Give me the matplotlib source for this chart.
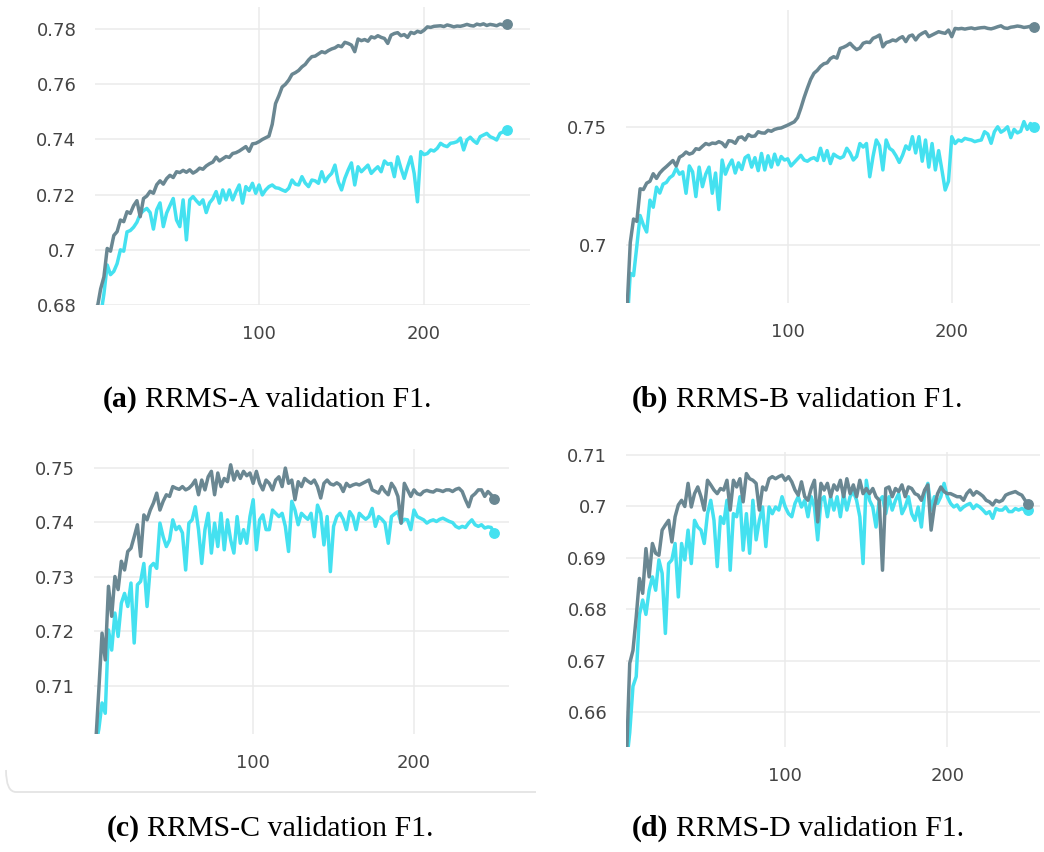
import numpy as np
import matplotlib
matplotlib.use("Agg")
import matplotlib.pyplot as plt
from matplotlib.path import Path
from matplotlib.patches import PathPatch

# Validation F1 logged every second epoch
epochs = np.arange(2, 251, 2)

rrms_a_gray = [
    0.6790, 0.6858, 0.6902, 0.7005, 0.6995, 0.7052, 0.7066, 0.7108, 0.7102, 0.7138,
    0.7132, 0.7160, 0.7178, 0.7120, 0.7186, 0.7195, 0.7212, 0.7205, 0.7236, 0.7250,
    0.7238, 0.7258, 0.7270, 0.7262, 0.7283, 0.7280, 0.7288, 0.7281, 0.7290, 0.7278,
    0.7285, 0.7296, 0.7292, 0.7304, 0.7312, 0.7318, 0.7336, 0.7322, 0.7330, 0.7338,
    0.7335, 0.7349, 0.7352, 0.7358, 0.7366, 0.7374, 0.7357, 0.7384, 0.7386, 0.7392,
    0.7400, 0.7406, 0.7412, 0.7455, 0.7530, 0.7558, 0.7590, 0.7600, 0.7615, 0.7636,
    0.7642, 0.7650, 0.7663, 0.7672, 0.7688, 0.7700, 0.7702, 0.7710, 0.7718, 0.7714,
    0.7722, 0.7728, 0.7732, 0.7740, 0.7736, 0.7752, 0.7748, 0.7742, 0.7718, 0.7764,
    0.7758, 0.7762, 0.7756, 0.7772, 0.7768, 0.7776, 0.7770, 0.7766, 0.7748, 0.7778,
    0.7784, 0.7787, 0.7776, 0.7780, 0.7770, 0.7788, 0.7784, 0.7792, 0.7788, 0.7796,
    0.7808, 0.7806, 0.7810, 0.7811, 0.7812, 0.7809, 0.7815, 0.7812, 0.7808, 0.7811,
    0.7810, 0.7813, 0.7817, 0.7813, 0.7811, 0.7818, 0.7815, 0.7819, 0.7813, 0.7817,
    0.7815, 0.7812, 0.7818, 0.7815, 0.7817,
]
rrms_a_cyan = [
    0.6680, 0.6760, 0.6840, 0.6945, 0.6910, 0.6922, 0.6950, 0.7000, 0.6995, 0.7065,
    0.7070, 0.7082, 0.7100, 0.7130, 0.7142, 0.7150, 0.7135, 0.7075, 0.7145, 0.7170,
    0.7084, 0.7133, 0.7160, 0.7186, 0.7108, 0.7084, 0.7181, 0.7036, 0.7181, 0.7193,
    0.7178, 0.7165, 0.7181, 0.7135, 0.7170, 0.7185, 0.7211, 0.7169, 0.7217, 0.7181,
    0.7217, 0.7181, 0.7210, 0.7235, 0.7169, 0.7229, 0.7215, 0.7241, 0.7205, 0.7235,
    0.7199, 0.7217, 0.7229, 0.7235, 0.7225, 0.7223, 0.7217, 0.7212, 0.7223, 0.7253,
    0.7238, 0.7235, 0.7265, 0.7242, 0.7229, 0.7253, 0.7250, 0.7241, 0.7283, 0.7247,
    0.7265, 0.7277, 0.7307, 0.7247, 0.7217, 0.7259, 0.7289, 0.7315, 0.7235, 0.7301,
    0.7283, 0.7295, 0.7307, 0.7277, 0.7290, 0.7301, 0.7283, 0.7322, 0.7310, 0.7313,
    0.7265, 0.7337, 0.7295, 0.7259, 0.7300, 0.7337, 0.7277, 0.7174, 0.7356, 0.7345,
    0.7349, 0.7362, 0.7358, 0.7368, 0.7386, 0.7378, 0.7374, 0.7386, 0.7388, 0.7392,
    0.7405, 0.7362, 0.7398, 0.7408, 0.7395, 0.7386, 0.7410, 0.7416, 0.7422, 0.7410,
    0.7405, 0.7398, 0.7422, 0.7428, 0.7434,
]

rrms_b_gray = [
    0.6720, 0.7010, 0.7110, 0.7100, 0.7238, 0.7235, 0.7262, 0.7270, 0.7302, 0.7282,
    0.7305, 0.7320, 0.7332, 0.7345, 0.7358, 0.7335, 0.7372, 0.7380, 0.7394, 0.7385,
    0.7390, 0.7408, 0.7405, 0.7418, 0.7430, 0.7425, 0.7432, 0.7430, 0.7438, 0.7432,
    0.7416, 0.7442, 0.7440, 0.7431, 0.7455, 0.7458, 0.7445, 0.7468, 0.7460, 0.7462,
    0.7480, 0.7475, 0.7474, 0.7486, 0.7482, 0.7490, 0.7494, 0.7496, 0.7502, 0.7508,
    0.7515, 0.7522, 0.7540, 0.7580, 0.7625, 0.7665, 0.7702, 0.7728, 0.7740, 0.7757,
    0.7768, 0.7772, 0.7790, 0.7798, 0.7792, 0.7833, 0.7838, 0.7845, 0.7855, 0.7840,
    0.7828, 0.7835, 0.7855, 0.7860, 0.7858, 0.7876, 0.7882, 0.7890, 0.7840, 0.7858,
    0.7862, 0.7869, 0.7865, 0.7876, 0.7883, 0.7862, 0.7885, 0.7890, 0.7869, 0.7888,
    0.7897, 0.7904, 0.7883, 0.7890, 0.7897, 0.7904, 0.7900, 0.7897, 0.7911, 0.7883,
    0.7918, 0.7916, 0.7918, 0.7915, 0.7918, 0.7920, 0.7916, 0.7919, 0.7921, 0.7922,
    0.7918, 0.7916, 0.7920, 0.7925, 0.7929, 0.7920, 0.7918, 0.7923, 0.7925, 0.7928,
    0.7926, 0.7922, 0.7924, 0.7927, 0.7925,
]
rrms_b_cyan = [
    0.6650, 0.6880, 0.6870, 0.6995, 0.7125, 0.7085, 0.7055, 0.7190, 0.7160, 0.7245,
    0.7220, 0.7258, 0.7265, 0.7285, 0.7295, 0.7325, 0.7300, 0.7310, 0.7219, 0.7335,
    0.7310, 0.7205, 0.7330, 0.7247, 0.7300, 0.7330, 0.7219, 0.7305, 0.7150, 0.7360,
    0.7300, 0.7335, 0.7360, 0.7305, 0.7348, 0.7320, 0.7370, 0.7380, 0.7330, 0.7370,
    0.7315, 0.7388, 0.7318, 0.7378, 0.7330, 0.7385, 0.7340, 0.7375, 0.7360, 0.7365,
    0.7335, 0.7350, 0.7365, 0.7380, 0.7360, 0.7355, 0.7365, 0.7370, 0.7358, 0.7410,
    0.7358, 0.7400, 0.7345, 0.7385, 0.7375, 0.7368, 0.7375, 0.7410, 0.7390, 0.7360,
    0.7375, 0.7430, 0.7415, 0.7430, 0.7289, 0.7375, 0.7445, 0.7420, 0.7318, 0.7445,
    0.7410, 0.7400, 0.7378, 0.7350, 0.7380, 0.7420, 0.7405, 0.7459, 0.7390, 0.7459,
    0.7355, 0.7445, 0.7330, 0.7430, 0.7318, 0.7400, 0.7318, 0.7233, 0.7270, 0.7459,
    0.7430, 0.7445, 0.7440, 0.7452, 0.7448, 0.7445, 0.7438, 0.7442, 0.7445, 0.7480,
    0.7470, 0.7431, 0.7480, 0.7501, 0.7478, 0.7487, 0.7501, 0.7455, 0.7490, 0.7475,
    0.7482, 0.7523, 0.7490, 0.7515, 0.7500,
]

rrms_c_gray = [
    0.6990, 0.7092, 0.7196, 0.7147, 0.7282, 0.7227, 0.7300, 0.7276, 0.7328, 0.7312,
    0.7346, 0.7352, 0.7373, 0.7395, 0.7337, 0.7413, 0.7404, 0.7422, 0.7435, 0.7453,
    0.7422, 0.7438, 0.7450, 0.7447, 0.7465, 0.7462, 0.7460, 0.7465, 0.7459, 0.7462,
    0.7468, 0.7477, 0.7450, 0.7477, 0.7459, 0.7483, 0.7493, 0.7450, 0.7490, 0.7465,
    0.7480, 0.7474, 0.7505, 0.7477, 0.7493, 0.7480, 0.7493, 0.7485, 0.7490, 0.7471,
    0.7493, 0.7471, 0.7459, 0.7477, 0.7471, 0.7459, 0.7477, 0.7483, 0.7465, 0.7499,
    0.7471, 0.7477, 0.7441, 0.7474, 0.7465, 0.7480, 0.7475, 0.7471, 0.7477, 0.7465,
    0.7444, 0.7471, 0.7477, 0.7470, 0.7468, 0.7472, 0.7468, 0.7456, 0.7471, 0.7465,
    0.7468, 0.7470, 0.7468, 0.7471, 0.7474, 0.7477, 0.7459, 0.7456, 0.7453, 0.7465,
    0.7456, 0.7450, 0.7471, 0.7462, 0.7447, 0.7398, 0.7471, 0.7459, 0.7447, 0.7459,
    0.7452, 0.7450, 0.7456, 0.7458, 0.7456, 0.7455, 0.7459, 0.7458, 0.7456, 0.7459,
    0.7459, 0.7456, 0.7460, 0.7462, 0.7456, 0.7441, 0.7428, 0.7447, 0.7452, 0.7459,
    0.7459, 0.7447, 0.7456, 0.7450, 0.7442,
]
rrms_c_cyan = [
    0.6990, 0.7020, 0.7068, 0.7049, 0.7202, 0.7165, 0.7233, 0.7190, 0.7251, 0.7269,
    0.7245, 0.7288, 0.7178, 0.7285, 0.7291, 0.7324, 0.7245, 0.7318, 0.7324, 0.7315,
    0.7398, 0.7373, 0.7355, 0.7367, 0.7404, 0.7386, 0.7392, 0.7380, 0.7312, 0.7398,
    0.7404, 0.7428, 0.7386, 0.7324, 0.7386, 0.7416, 0.7343, 0.7398, 0.7355, 0.7416,
    0.7349, 0.7404, 0.7367, 0.7343, 0.7410, 0.7361, 0.7386, 0.7361, 0.7410, 0.7441,
    0.7349, 0.7404, 0.7413, 0.7386, 0.7386, 0.7422, 0.7416, 0.7410, 0.7416, 0.7392,
    0.7346, 0.7438, 0.7422, 0.7395, 0.7416, 0.7410, 0.7405, 0.7416, 0.7373, 0.7431,
    0.7416, 0.7358, 0.7410, 0.7309, 0.7392, 0.7410, 0.7416, 0.7405, 0.7386, 0.7419,
    0.7410, 0.7386, 0.7416, 0.7410, 0.7405, 0.7410, 0.7425, 0.7392, 0.7410, 0.7405,
    0.7398, 0.7361, 0.7410, 0.7415, 0.7419, 0.7398, 0.7405, 0.7404, 0.7386, 0.7422,
    0.7410, 0.7407, 0.7404, 0.7398, 0.7402, 0.7404, 0.7401, 0.7405, 0.7407, 0.7404,
    0.7401, 0.7399, 0.7392, 0.7389, 0.7392, 0.7390, 0.7398, 0.7404, 0.7395, 0.7392,
    0.7395, 0.7389, 0.7391, 0.7390, 0.7379,
]

rrms_d_gray = [
    0.6510, 0.6695, 0.6720, 0.6785, 0.6860, 0.6831, 0.6918, 0.6863, 0.6928, 0.6909,
    0.6905, 0.6954, 0.6964, 0.6973, 0.6931, 0.6980, 0.7003, 0.7012, 0.7000, 0.7045,
    0.6999, 0.7025, 0.7038, 0.7019, 0.6993, 0.7051, 0.7042, 0.7032, 0.7025, 0.7035,
    0.7032, 0.7051, 0.6993, 0.7051, 0.7038, 0.7054, 0.7009, 0.7064, 0.7054, 0.7051,
    0.7045, 0.6993, 0.7038, 0.7032, 0.7054, 0.7058, 0.7054, 0.7058, 0.7061, 0.7051,
    0.7058, 0.7048, 0.7032, 0.7022, 0.7048, 0.7019, 0.7012, 0.7035, 0.7051, 0.6970,
    0.7045, 0.7032, 0.7045, 0.7019, 0.7042, 0.7032, 0.7051, 0.7019, 0.7054, 0.7025,
    0.7042, 0.7019, 0.7051, 0.7025, 0.7035, 0.7025, 0.7035, 0.7019, 0.7012, 0.6876,
    0.7035, 0.7038, 0.7019, 0.7035, 0.7029, 0.7042, 0.7019, 0.7038, 0.7035, 0.7025,
    0.7022, 0.7012, 0.7032, 0.7042, 0.6954, 0.7000, 0.7025, 0.7038, 0.7029, 0.7025,
    0.7025, 0.7022, 0.7019, 0.7019, 0.7012, 0.7025, 0.7032, 0.7022, 0.7029, 0.7025,
    0.7020, 0.7012, 0.7009, 0.7003, 0.7012, 0.7009, 0.7012, 0.7022, 0.7025, 0.7027,
    0.7029, 0.7025, 0.7022, 0.7012, 0.7005,
]
rrms_d_cyan = [
    0.6500, 0.6560, 0.6650, 0.6669, 0.6790, 0.6818, 0.6790, 0.6837, 0.6863, 0.6837,
    0.6896, 0.6870, 0.6753, 0.6889, 0.6896, 0.6928, 0.6824, 0.6928, 0.6896, 0.6954,
    0.6889, 0.6973, 0.6960, 0.6954, 0.6928, 0.6986, 0.7012, 0.6973, 0.6883, 0.6980,
    0.6967, 0.7012, 0.6876, 0.6986, 0.6980, 0.7019, 0.6915, 0.6986, 0.6909, 0.7012,
    0.6935, 0.6973, 0.6999, 0.6922, 0.6999, 0.6986, 0.6999, 0.6993, 0.7019, 0.6999,
    0.6986, 0.6980, 0.7006, 0.7019, 0.6999, 0.7012, 0.6980, 0.7019, 0.6999, 0.6935,
    0.7012, 0.7019, 0.6980, 0.7019, 0.6993, 0.7019, 0.6980, 0.7025, 0.6993, 0.7019,
    0.7029, 0.7012, 0.6980, 0.6889, 0.7051, 0.7012, 0.6999, 0.6960, 0.7012, 0.7019,
    0.6986, 0.7019, 0.6993, 0.7012, 0.7025, 0.6986, 0.6999, 0.7019, 0.6986, 0.6973,
    0.6999, 0.6960, 0.7025, 0.7045, 0.6993, 0.7019, 0.7006, 0.7019, 0.7045, 0.7019,
    0.7006, 0.6999, 0.7003, 0.6993, 0.6999, 0.7003, 0.7006, 0.6996, 0.7003, 0.6999,
    0.6993, 0.6986, 0.6990, 0.6977, 0.6996, 0.6993, 0.6993, 0.6999, 0.6990, 0.6990,
    0.6996, 0.6993, 0.6996, 0.6993, 0.6993,
]

x_ticks = [100, 200]
a_yticks = [0.68, 0.70, 0.72, 0.74, 0.76, 0.78]
a_ylabels = ["0.68", "0.7", "0.72", "0.74", "0.76", "0.78"]
b_yticks = [0.70, 0.75]
b_ylabels = ["0.7", "0.75"]
c_yticks = [0.71, 0.72, 0.73, 0.74, 0.75]
c_ylabels = ["0.71", "0.72", "0.73", "0.74", "0.75"]
d_yticks = [0.66, 0.67, 0.68, 0.69, 0.70, 0.71]
d_ylabels = ["0.66", "0.67", "0.68", "0.69", "0.7", "0.71"]

letters = ["(a)", "(b)", "(c)", "(d)"]
captions = ["RRMS-A validation F1.", "RRMS-B validation F1.",
            "RRMS-C validation F1.", "RRMS-D validation F1."]

GRAY = "#6a8792"
CYAN = "#44e1f0"
GRID = "#ebebeb"
TICK = "#444444"

W, H = 1044, 852
fig = plt.figure(figsize=(W / 100, H / 100), dpi=100)


def frac(left, top, right, bottom):
    return [left / W, 1 - bottom / H, (right - left) / W, (bottom - top) / H]


panels = [
    dict(rect=frac(95, 7, 530, 305), xlim=(0.6, 264.2), ylim=(0.68, 0.788),
         yt=a_yticks, yl=a_ylabels, gray=rrms_a_gray, cyan=rrms_a_cyan,
         cap=(103, 407)),
    dict(rect=frac(626, 10, 1040, 303), xlim=(1.4, 253.8), ylim=(0.6754, 0.7996),
         yt=b_yticks, yl=b_ylabels, gray=rrms_b_gray, cyan=rrms_b_cyan,
         cap=(632, 407)),
    dict(rect=frac(94, 449, 509, 734), xlim=(1.0, 259.1), ylim=(0.7011, 0.7534),
         yt=c_yticks, yl=c_ylabels, gray=rrms_c_gray, cyan=rrms_c_cyan,
         cap=(107, 836)),
    dict(rect=frac(626, 452, 1040, 747), xlim=(1.7, 257.2), ylim=(0.6532, 0.7106),
         yt=d_yticks, yl=d_ylabels, gray=rrms_d_gray, cyan=rrms_d_cyan,
         cap=(632, 836)),
]

for p in panels:
    ax = fig.add_axes(p["rect"])
    ax.set_xlim(*p["xlim"])
    ax.set_ylim(*p["ylim"])
    for s in ax.spines.values():
        s.set_visible(False)
    ax.set_xticks(x_ticks)
    ax.set_xticklabels([str(t) for t in x_ticks])
    ax.set_yticks(p["yt"])
    ax.set_yticklabels(p["yl"])
    ax.tick_params(length=0, labelsize=13, labelcolor=TICK)
    ax.tick_params(axis="y", pad=13.5)
    ax.tick_params(axis="x", pad=14.5)
    ax.grid(True, color=GRID, lw=1.1)
    ax.set_axisbelow(True)
    ax.plot(epochs, p["cyan"], color=CYAN, lw=2.5, solid_joinstyle="round")
    ax.plot(epochs, p["gray"], color=GRAY, lw=2.5, solid_joinstyle="round")
    ax.plot(epochs[-1], p["cyan"][-1], "o", color=CYAN, ms=6.8, clip_on=False)
    ax.plot(epochs[-1], p["gray"][-1], "o", color=GRAY, ms=6.8, clip_on=False)

# captions: bold label followed by regular text
renderer = fig.canvas.get_renderer()
for p, letter, text in zip(panels, letters, captions):
    x0, yb = p["cap"]
    t = fig.text(x0 / W, 1 - yb / H, letter, fontfamily="Liberation Serif",
                 fontweight="bold", fontsize=21.5, ha="left", va="baseline")
    bb = t.get_window_extent(renderer)
    fig.text((bb.x1 + 7) / W, 1 - yb / H, text, fontfamily="Liberation Serif",
             fontsize=21.5, ha="left", va="baseline")

# faint card edge under the lower-left chart
pts = [(6, 770), (6, 792), (16, 792), (536, 792)]
codes = [Path.MOVETO, Path.CURVE3, Path.CURVE3, Path.LINETO]
verts = [(x / W, 1 - y / H) for x, y in pts]
fig.add_artist(PathPatch(Path(verts, codes), transform=fig.transFigure,
                         fill=False, edgecolor="#e4e4e4", lw=1.3))

fig.savefig("out.png", dpi=100, facecolor="white")
